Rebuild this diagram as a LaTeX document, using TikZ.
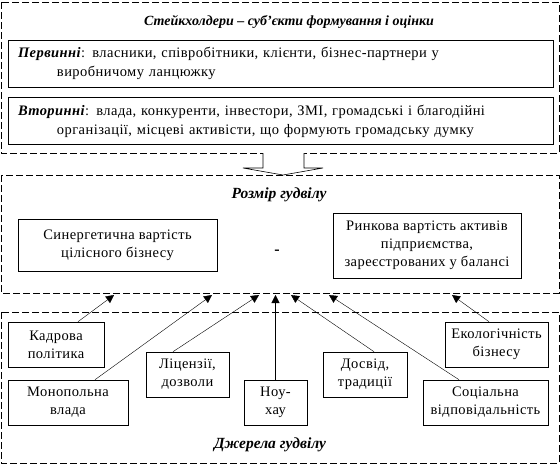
\documentclass[tikz,border=0pt]{standalone}
\usepackage{fontspec}
\setmainfont{Liberation Serif}
\newfontfamily\boxfont{Liberation Serif}[LetterSpace=3]
\usetikzlibrary{positioning,arrows.meta}

\tikzset{
  frame/.style={draw, dash pattern=on 7pt off 3pt, line width=0.6pt},
  box/.style={draw, align=center, inner sep=1pt, line width=0.6pt,
    font=\boxfont\fontsize{14.5}{18}\selectfont},
  widebox/.style={draw, align=left, inner xsep=10pt, text width=525pt,
    minimum height=47pt, line width=0.6pt, font=\boxfont\fontsize{14.5}{19}\selectfont},
  title/.style={font=\fontsize{15.5}{18}\selectfont\bfseries\itshape},
  src/.style={-{Triangle[length=8pt,width=8pt]}, line width=0.4pt},
}

\begin{document}
\begin{tikzpicture}[x=1pt,y=-1pt]

  \useasboundingbox (0,0) rectangle (560,464);

  % stakeholders
  \draw[frame] (1,2) rectangle (559,153);
  \node[title, font=\fontsize{14}{18}\selectfont\bfseries\itshape] (stk) at (289,22)
    {Стейкхолдери – суб’єкти формування і оцінки};
  \node[widebox] (perv) at (280.5,63.5)
    {\textbf{\textit{Первинні}}: власники, співробітники, клієнти, бізнес-партнери у\\
     \hspace*{39pt}виробничому ланцюжку};
  \node[widebox] (vtor) at (280.5,121)
    {\textbf{\textit{Вторинні}}: влада, конкуренти, інвестори, ЗМІ, громадські і благодійні\\
     \hspace*{39pt}організації, місцеві активісти, що формують громадську думку};

  % block arrow
  \draw[line width=0.6pt, fill=white] (263,153) -- (263,168) -- (243,168) -- (283,175)
    -- (323,168) -- (304,168) -- (304,153);

  % size of goodwill
  \draw[frame] (1,175) rectangle (559,293);
  \node[title] (rozm) at (279,195) {Розмір гудвілу};
  \node[box, minimum width=199pt, minimum height=52pt] (syn) at (117.5,245)
    {Синергетична вартість\\цілісного бізнесу};
  \node[font=\fontsize{16}{18}\selectfont\bfseries] (minus) at (277,252) {-};
  \node[box, minimum width=188pt, minimum height=65pt] (rynk) at (427,245.5)
    {Ринкова вартість активів\\підприємства,\\зареєстрованих у балансі};

  \coordinate (t1) at (114,295);
  \coordinate (t2) at (212,295);
  \coordinate (t3) at (259,295);
  \coordinate (t4) at (275.5,295);
  \coordinate (t5) at (291,295);
  \coordinate (t6) at (329,295);
  \coordinate (t7) at (452,295);

  % sources of goodwill
  \draw[frame] (1,312) rectangle (559,463);
  \node[title] (dzh) at (270,445) {Джерела гудвілу};
  \node[box, minimum width=96pt, minimum height=45pt] (kadr) at (56,344.5)
    {Кадрова\\політика};
  \node[box, minimum width=120pt, minimum height=45pt] (mono) at (68,402.5)
    {Монопольна\\влада};
  \node[box, minimum width=83pt, minimum height=45pt] (lic) at (187.5,374.5)
    {Ліцензії,\\дозволи};
  \node[box, minimum width=63pt, minimum height=45pt] (nou) at (275.5,402.5)
    {Ноу-\\хау};
  \node[box, minimum width=84pt, minimum height=45pt] (dosv) at (365,374.5)
    {Досвід,\\традиції};
  \node[box, minimum width=125pt, minimum height=45pt] (soc) at (485.5,402.5)
    {Соціальна\\відповідальність};
  \node[box, minimum width=103pt, minimum height=45pt] (eko) at (496.5,344.5)
    {Екологічність\\бізнесу};

  \path[src] ([xshift=22pt]kadr.north) edge (t1);
  \path[src] ([xshift=27pt]mono.north) edge (t2);
  \path[src] ([xshift=-14.5pt]lic.north) edge (t3);
  \path[src] (nou.north) edge (t4);
  \path[src] ([xshift=9pt]dosv.north) edge (t5);
  \path[src] ([xshift=-26.5pt]soc.north) edge (t6);
  \path[src] ([xshift=-7.5pt]eko.north) edge (t7);

\end{tikzpicture}
\end{document}
